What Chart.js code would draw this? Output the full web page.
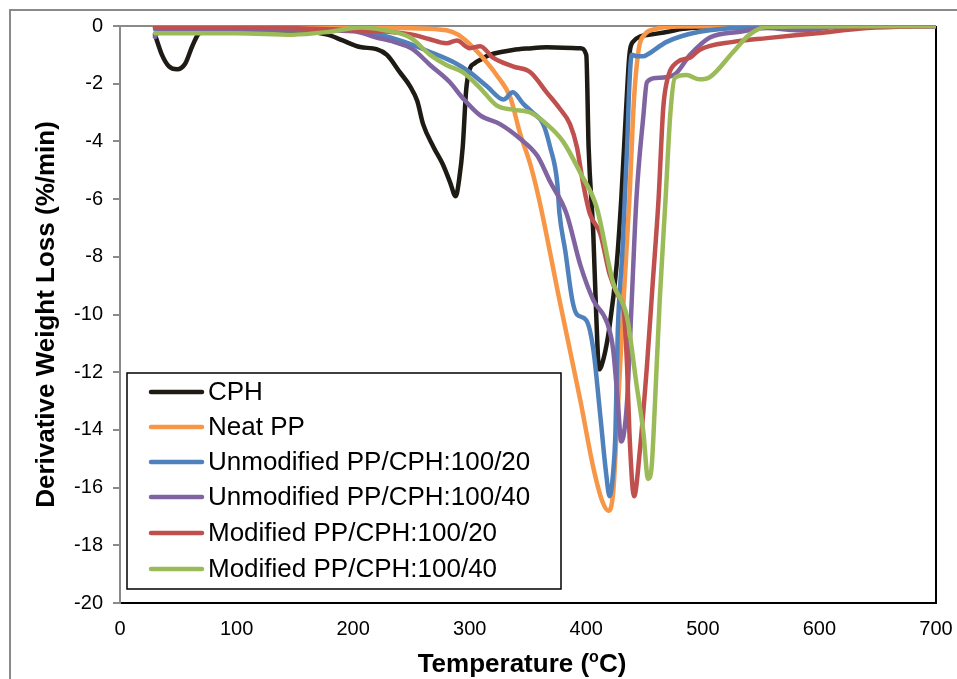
<!DOCTYPE html>
<html>
<head>
<meta charset="utf-8">
<script src="https://cdn.jsdelivr.net/npm/chart.js@4.4.1/dist/chart.umd.min.js"></script>
<style>
html,body{margin:0;padding:0;background:#fff;}
canvas{display:block;}
</style>
</head>
<body>
<canvas id="c" width="957" height="679"></canvas>
<script>
// ---------- DATA ----------
const seriesNames = ["CPH", "Neat PP", "Unmodified PP/CPH:100/20", "Unmodified PP/CPH:100/40", "Modified PP/CPH:100/20", "Modified PP/CPH:100/40"];
const xTicks = [0, 100, 200, 300, 400, 500, 600, 700];
const yTicks = [0, -2, -4, -6, -8, -10, -12, -14, -16, -18, -20];

const cphT = [30,36,42,49,56,62,68,80,120,160,178,191,206,220,229,240,249,255,260,269,277,283,288,291,294,297,300,304,310,317,327,337,350,366,380,395,400,402,406,408.5,411,415,420,426,430,434,437,440,455,470,483,500,550,700];
const cphV = [-0.3,-1.0,-1.4,-1.5,-1.3,-0.7,-0.25,-0.15,-0.2,-0.2,-0.3,-0.5,-0.73,-0.8,-1.0,-1.6,-2.1,-2.6,-3.4,-4.2,-4.8,-5.4,-5.9,-5.3,-4.2,-2.2,-1.5,-1.3,-1.15,-1.0,-0.9,-0.83,-0.78,-0.74,-0.75,-0.77,-1.0,-4.2,-7.2,-10.0,-11.9,-11.5,-10.4,-8.3,-6.0,-3.0,-1.0,-0.55,-0.3,-0.2,-0.1,-0.05,0,0];

const ppT = [30,100,200,250,280,290,298,309,323,335,343,352,360,377,395,406,414,419,423,426,432,437,441,445,450,460,480,700];
const ppV = [-0.05,-0.05,-0.05,-0.08,-0.15,-0.3,-0.55,-1.0,-1.7,-2.5,-3.7,-4.8,-6.1,-9.5,-13.0,-15.3,-16.5,-16.8,-16.2,-14.1,-9.5,-6.0,-2.5,-0.8,-0.3,-0.1,-0.02,0];

const u20T = [30,100,200,240,266,286,300,315,329,337,346,354,363,369,375,377,382,388,392,400,406,412,417,420,423,425,427,431,433,435,437,439,444,449,452,469,497,540,700];
const u20V = [-0.1,-0.1,-0.15,-0.5,-0.9,-1.25,-1.6,-2.1,-2.55,-2.3,-2.7,-3.0,-3.4,-4.2,-5.4,-6.5,-7.8,-9.5,-10.0,-10.2,-11.2,-13.5,-15.5,-16.3,-15.5,-14.1,-10.6,-7.8,-6.0,-4.2,-2.0,-1.0,-1.05,-1.05,-1.0,-0.55,-0.2,-0.05,0];

const u40T = [30,33,40,100,150,200,220,235,251,266,283,294,309,326,343,358,369,383,395,406,418,423,427,430,432,435,439,443,449,452,460,475,489,506,532,555,583,620,700];
const u40V = [-0.38,-0.2,-0.15,-0.15,-0.15,-0.18,-0.4,-0.55,-0.8,-1.35,-1.95,-2.5,-3.1,-3.4,-3.9,-4.5,-5.4,-6.5,-8.3,-9.5,-10.3,-11.2,-13.0,-14.4,-14.2,-13.0,-9.5,-6.0,-3.1,-1.95,-1.8,-1.7,-1.0,-0.4,-0.2,-0.07,-0.15,-0.02,0];

const m20T = [30,100,150,200,230,251,265,280,289,300,309,320,337,352,366,377,386,392,397,403,412,420,428,432,435,437,441,446,452,457,462,466,469,478,489,497,526,555,598,641,700];
const m20V = [-0.05,-0.05,-0.08,-0.15,-0.2,-0.3,-0.45,-0.6,-0.5,-0.77,-0.7,-1.1,-1.4,-1.6,-2.3,-2.85,-3.4,-4.2,-5.4,-6.5,-7.2,-8.6,-9.4,-9.8,-11.8,-14.1,-16.3,-14.7,-11.8,-8.9,-6.0,-2.85,-1.95,-1.25,-1.1,-0.83,-0.55,-0.42,-0.25,-0.07,0];

const m40T = [30,100,148,180,206,234,249,266,280,294,309,323,337,352,366,380,395,409,423,435,443,449,453,456,459,463,468,472,476,486,497,506,526,540,555,700];
const m40V = [-0.25,-0.25,-0.3,-0.2,-0.05,-0.2,-0.4,-1.0,-1.35,-1.6,-2.15,-2.75,-2.9,-3.0,-3.4,-4.0,-5.1,-6.3,-8.9,-10.1,-12.4,-14.1,-15.7,-15.3,-13.0,-9.5,-6.0,-3.1,-1.8,-1.7,-1.85,-1.77,-0.9,-0.3,-0.03,0];

// ---------- STYLE ----------
const colors = ["#1E1B14", "#F79646", "#4F81BD", "#8064A2", "#C0504D", "#9BBB59"];
const FONT = "'Liberation Sans', Arial, sans-serif";
const allT = [cphT, ppT, u20T, u40T, m20T, m40T];
const allV = [cphV, ppV, u20V, u40V, m20V, m40V];

const datasets = seriesNames.map((name, i) => ({
  label: name,
  data: allT[i].map((t, j) => ({x: t, y: allV[i][j]})),
  borderColor: colors[i],
  backgroundColor: colors[i],
  borderWidth: 4.5,
  pointRadius: 0,
  fill: false,
  cubicInterpolationMode: 'monotone',
  borderCapStyle: 'round',
  borderJoinStyle: 'round',
  order: seriesNames.length - i
}));

const decor = {
  id: 'decor',
  beforeDraw(chart) {
    const ctx = chart.ctx;
    ctx.save();
    ctx.fillStyle = '#fff';
    ctx.fillRect(0, 0, chart.width, chart.height);
    ctx.strokeStyle = '#8a8a8a';
    ctx.lineWidth = 2;
    ctx.beginPath();
    ctx.moveTo(10, chart.height + 5);
    ctx.lineTo(10, 10);
    ctx.lineTo(chart.width + 5, 10);
    ctx.stroke();
    ctx.restore();
  },
  beforeDatasetsDraw(chart) {
    const ctx = chart.ctx, a = chart.chartArea;
    ctx.save();
    ctx.strokeStyle = '#000';
    ctx.lineWidth = 2;
    ctx.beginPath();
    ctx.moveTo(a.right, a.top);
    ctx.lineTo(a.right, a.bottom);
    ctx.stroke();
    ctx.strokeStyle = '#8a8a8a';
    ctx.lineWidth = 2;
    ctx.beginPath();
    ctx.moveTo(a.left, a.top);
    ctx.lineTo(a.right, a.top);
    ctx.stroke();
    ctx.restore();
  },
  afterDraw(chart) {
    const ctx = chart.ctx;
    ctx.save();
    const lx = 127, ly = 373, lw = 434, lh = 216;
    ctx.fillStyle = '#fff';
    ctx.fillRect(lx, ly, lw, lh);
    ctx.strokeStyle = '#000';
    ctx.lineWidth = 1.5;
    ctx.strokeRect(lx, ly, lw, lh);
    const rows = [392, 427, 462, 497, 533, 569];
    ctx.font = '26px ' + FONT;
    ctx.textBaseline = 'middle';
    ctx.textAlign = 'left';
    chart.data.datasets.forEach((ds, i) => {
      const y = rows[i];
      ctx.strokeStyle = ds.borderColor;
      ctx.lineWidth = 4.5;
      ctx.lineCap = 'round';
      ctx.beginPath();
      ctx.moveTo(151, y);
      ctx.lineTo(202, y);
      ctx.stroke();
      ctx.fillStyle = '#000';
      ctx.fillText(ds.label, 208, y + 1);
    });
    const p1 = 'Temperature (', sup = 'o', p2 = 'C)';
    const big = 'bold 26px ' + FONT, small = 'bold 16px ' + FONT;
    ctx.font = big; const w1 = ctx.measureText(p1).width, w3 = ctx.measureText(p2).width;
    ctx.font = small; const w2 = ctx.measureText(sup).width;
    const total = w1 + w2 + w3;
    let x = 522 - total / 2;
    const base = 672;
    ctx.textBaseline = 'alphabetic';
    ctx.fillStyle = '#000';
    ctx.font = big; ctx.fillText(p1, x, base); x += w1;
    ctx.font = small; ctx.fillText(sup, x, base - 10); x += w2;
    ctx.font = big; ctx.fillText(p2, x, base);
    ctx.restore();
  }
};

new Chart(document.getElementById('c'), {
  type: 'line',
  data: { datasets },
  plugins: [decor],
  options: {
    responsive: false,
    animation: false,
    events: [],
    layout: { padding: { left: 0, top: 26, right: 21, bottom: 0 } },
    plugins: { legend: { display: false }, tooltip: { enabled: false } },
    scales: {
      x: {
        type: 'linear',
        min: 0, max: 700,
        afterBuildTicks(scale) { scale.ticks = xTicks.map(v => ({value: v})); },
        afterFit(scale) { scale.height = 76; scale.paddingLeft = 0; scale.paddingRight = 0; },
        grid: { display: false, drawTicks: false },
        border: { display: true, color: '#000', width: 2 },
        ticks: { color: '#000', padding: 14, maxRotation: 0, font: { family: FONT, size: 20 } },
        title: { display: false }
      },
      y: {
        type: 'linear',
        min: -20, max: 0,
        afterBuildTicks(scale) { scale.ticks = yTicks.map(v => ({value: v})); },
        afterFit(scale) { scale.width = 120; scale.paddingTop = 0; scale.paddingBottom = 0; },
        grid: { drawOnChartArea: false, drawTicks: true, tickLength: 7, color: '#8a8a8a', lineWidth: 2 },
        border: { display: true, color: '#8a8a8a', width: 2 },
        ticks: { color: '#000', padding: 10, font: { family: FONT, size: 20 } },
        title: {
          display: true,
          text: 'Derivative Weight Loss (%/min)',
          color: '#000',
          font: { family: FONT, size: 26, weight: 'bold' },
          padding: { top: 31, bottom: 0 }
        }
      }
    }
  }
});
</script>
</body>
</html>
